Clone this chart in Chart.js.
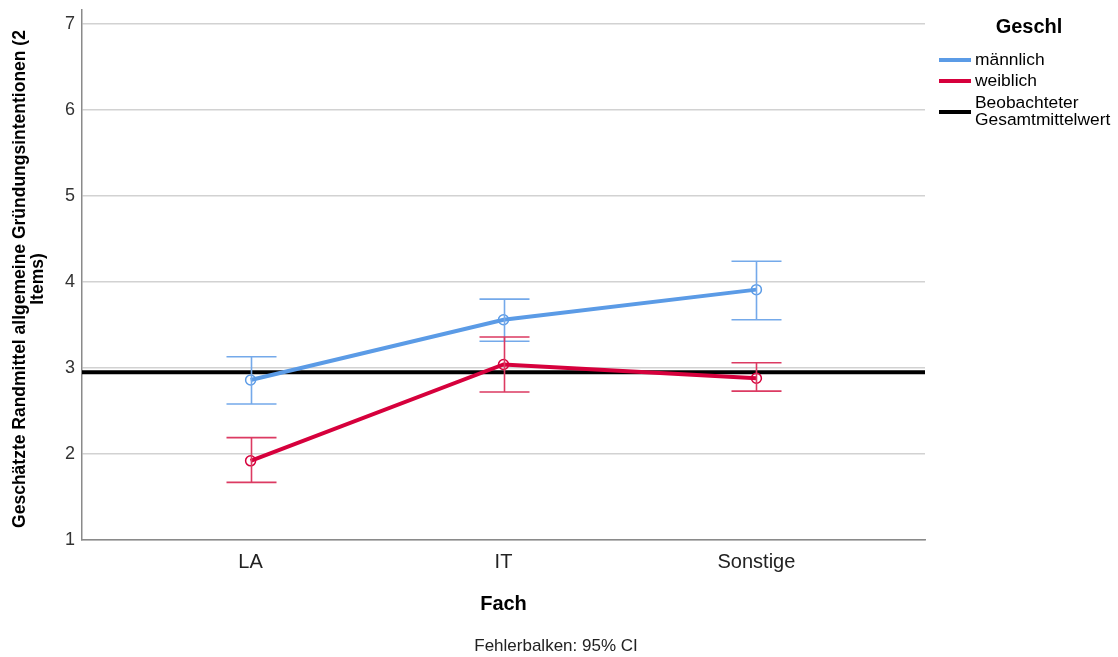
<!DOCTYPE html>
<html>
<head>
<meta charset="utf-8">
<script src="https://cdn.jsdelivr.net/npm/chart.js@4.4.1/dist/chart.umd.min.js"></script>
<style>
  html, body { margin: 0; padding: 0; background: #fff; }
  #wrap { width: 1118px; height: 657px; position: relative; }
</style>
</head>
<body>
<div id="wrap"><canvas id="c" width="1118" height="657"></canvas></div>
<script>
// Estimated marginal means by subject and gender, with 95% confidence intervals
const categories = ['LA', 'IT', 'Sonstige'];
const maleMeans = [2.86, 3.56, 3.91];
const maleCILow = [2.58, 3.31, 3.56];
const maleCIHigh = [3.13, 3.80, 4.24];
const femaleMeans = [1.92, 3.04, 2.88];
const femaleCILow = [1.67, 2.72, 2.73];
const femaleCIHigh = [2.19, 3.36, 3.06];
const grandMean = 2.95;
const yTicks = [1, 2, 3, 4, 5, 6, 7];

const FONT = '"Liberation Sans", Arial, sans-serif';
const BLUE = '#5b9be6';
const RED = '#d6003c';
const BLUE_BAR = '#74a9ea';
const RED_BAR = '#dc3a62';

const xMin = 1 / 3, xMax = categories.length + 2 / 3;

const toPoints = arr => arr.map((v, i) => ({ x: i + 1, y: v }));

// Error bars with caps, drawn through the chart scales
const errorBars = {
  id: 'errorBars',
  afterDatasetsDraw(chart) {
    const { ctx, scales: { x, y } } = chart;
    const sets = [
      { lo: maleCILow, hi: maleCIHigh, color: BLUE_BAR },
      { lo: femaleCILow, hi: femaleCIHigh, color: RED_BAR }
    ];
    ctx.save();
    ctx.lineWidth = 1.6;
    sets.forEach(s => {
      ctx.strokeStyle = s.color;
      s.lo.forEach((lo, i) => {
        const px = Math.round(x.getPixelForValue(i + 1)) + 0.5;
        const y1 = y.getPixelForValue(lo);
        const y2 = y.getPixelForValue(s.hi[i]);
        ctx.beginPath();
        ctx.moveTo(px, y1); ctx.lineTo(px, y2);
        ctx.moveTo(px - 25, y1); ctx.lineTo(px + 25, y1);
        ctx.moveTo(px - 25, y2); ctx.lineTo(px + 25, y2);
        ctx.stroke();
      });
    });
    ctx.restore();
  }
};

// Axis titles, footnote and legend
const decorations = {
  id: 'decorations',
  afterDraw(chart) {
    const { ctx, chartArea: a } = chart;
    ctx.save();
    ctx.fillStyle = '#000';
    ctx.textAlign = 'center';
    ctx.textBaseline = 'middle';

    // y-axis title (two lines, rotated)
    ctx.save();
    ctx.translate(20, 279);
    ctx.rotate(-Math.PI / 2);
    ctx.font = 'bold 17.5px ' + FONT;
    ctx.fillText('Geschätzte Randmittel allgemeine Gründungsintentionen (2', 0, 0);
    ctx.fillText('Items)', 0, 18);
    ctx.restore();

    // x-axis title
    ctx.font = 'bold 20px ' + FONT;
    ctx.fillText('Fach', (a.left + a.right) / 2, 604);

    // footnote
    ctx.font = '17px ' + FONT;
    ctx.fillStyle = '#222';
    ctx.fillText('Fehlerbalken: 95% CI', 556, 646);

    // legend
    ctx.fillStyle = '#000';
    ctx.font = 'bold 20px ' + FONT;
    ctx.fillText('Geschl', 1029, 27);
    ctx.textAlign = 'left';
    ctx.font = '17.4px ' + FONT;
    const items = [
      { lines: ['männlich'], color: BLUE, y: 60 },
      { lines: ['weiblich'], color: RED, y: 81 },
      { lines: ['Beobachteter', 'Gesamtmittelwert'], color: '#000', y: 103 }
    ];
    items.forEach(it => {
      ctx.strokeStyle = it.color;
      ctx.lineWidth = 4;
      const ly = it.lines.length > 1 ? it.y + 9 : it.y;
      ctx.beginPath();
      ctx.moveTo(939, ly); ctx.lineTo(971, ly);
      ctx.stroke();
      it.lines.forEach((t, k) => ctx.fillText(t, 975, it.y + k * 17));
    });
    ctx.restore();
  }
};

new Chart(document.getElementById('c'), {
  type: 'line',
  data: {
    datasets: [
      {
        label: 'Beobachteter Gesamtmittelwert',
        data: [{ x: xMin, y: grandMean }, { x: xMax, y: grandMean }],
        borderColor: '#000',
        borderWidth: 4,
        pointRadius: 0,
        order: 3
      },
      {
        label: 'weiblich',
        data: toPoints(femaleMeans),
        borderColor: RED,
        borderWidth: 4,
        pointRadius: 5,
        pointBorderWidth: 1.5,
        pointBackgroundColor: 'rgba(255,255,255,0)',
        pointBorderColor: RED,
        order: 2
      },
      {
        label: 'männlich',
        data: toPoints(maleMeans),
        borderColor: BLUE,
        borderWidth: 4,
        pointRadius: 5,
        pointBorderWidth: 1.5,
        pointBackgroundColor: 'rgba(255,255,255,0)',
        pointBorderColor: BLUE,
        order: 1
      }
    ]
  },
  options: {
    responsive: false,
    animation: false,
    layout: { padding: { top: 10, right: 193, left: 0, bottom: 0 } },
    plugins: { legend: { display: false }, tooltip: { enabled: false } },
    scales: {
      x: {
        type: 'linear',
        min: xMin,
        max: xMax,
        afterBuildTicks: s => { s.ticks = categories.map((c, i) => ({ value: i + 1 })); },
        afterFit: s => { s.height = 117; s.paddingLeft = 0; s.paddingRight = 0; },
        ticks: {
          callback: v => categories[v - 1],
          font: { family: FONT, size: 20 },
          color: '#222',
          padding: 2,
          maxRotation: 0
        },
        grid: { display: false },
        border: { color: '#8a8a8a', width: 1.5 }
      },
      y: {
        min: 1,
        max: 7.16,
        afterBuildTicks: s => { s.ticks = yTicks.map(v => ({ value: v })); },
        afterFit: s => { s.width = 82; s.paddingTop = 0; s.paddingBottom = 0; },
        ticks: {
          font: { family: FONT, size: 18 },
          color: '#333',
          padding: 7
        },
        grid: { color: '#d2d2d2', lineWidth: 1.6, drawTicks: false },
        border: { color: '#8a8a8a', width: 1.5 }
      }
    }
  },
  plugins: [errorBars, decorations]
});
</script>
</body>
</html>
